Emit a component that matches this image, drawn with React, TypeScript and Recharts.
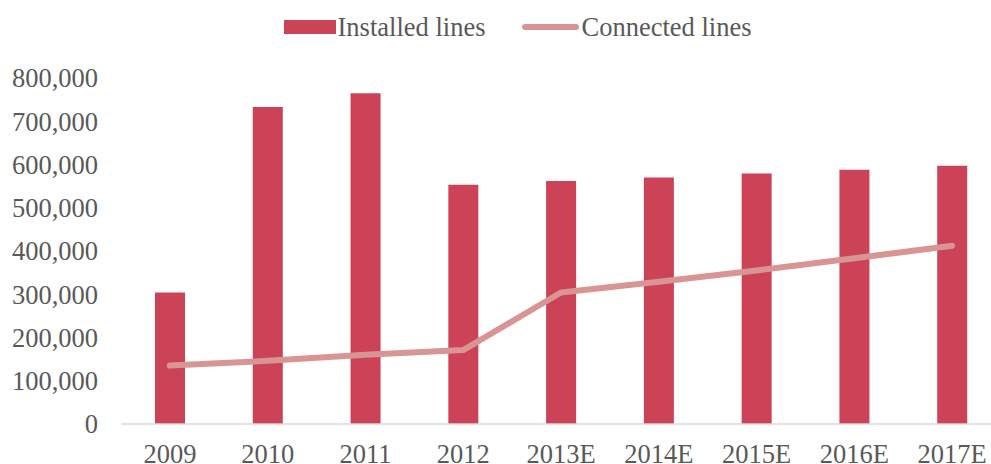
import {
  ComposedChart,
  Bar,
  Line,
  XAxis,
  YAxis,
  Legend,
} from "recharts";

const years = ["2009", "2010", "2011", "2012", "2013E", "2014E", "2015E", "2016E", "2017E"];
const installed = [304000, 733000, 765000, 553000, 562000, 570000, 579000, 588000, 597000];
const connected = [135000, 146000, 160000, 171000, 304000, 329000, 355000, 383000, 412000];
const yTicks = [0, 100000, 200000, 300000, 400000, 500000, 600000, 700000, 800000];

const data = years.map((year, i) => ({
  year,
  installed: installed[i],
  connected: connected[i],
}));

const font = "'Liberation Serif', 'Times New Roman', serif";
const textColor = "#595959";
const barColor = "#CC4257";
const lineColor = "#D99594";
const fontSize = 26.5;

function TopLegend() {
  return (
    <div
      style={{
        display: "flex",
        justifyContent: "center",
        alignItems: "center",
        height: 40,
        fontFamily: font,
        fontSize,
        color: textColor,
        paddingLeft: 34,
      }}
    >
      <span style={{ display: "inline-block", width: 52, height: 14, background: barColor, marginRight: 2 }} />
      <span>Installed lines</span>
      <span
        style={{
          display: "inline-block",
          width: 57,
          height: 6,
          borderRadius: 3,
          background: lineColor,
          marginLeft: 37,
          marginRight: 2,
        }}
      />
      <span>Connected lines</span>
    </div>
  );
}

export default function App() {
  return (
    <div
      style={{
        position: "absolute",
        left: 0,
        top: 0,
        width: 991,
        height: 464,
        overflow: "hidden",
        background: "#fff",
      }}
    >
      <ComposedChart
        width={1010}
        height={464}
        data={data}
        margin={{ top: 38, right: 9, left: 0, bottom: 0 }}
        style={{ fontFamily: font }}
      >
        <Legend
          verticalAlign="top"
          align="center"
          wrapperStyle={{ top: 7 }}
          content={() => <TopLegend />}
        />
        <XAxis
          dataKey="year"
          height={40}
          tickLine={false}
          axisLine={{ stroke: "#D9D9D9", strokeWidth: 1.5 }}
          tick={{ fill: textColor, fontSize, fontFamily: font }}
          tickMargin={14}
        />
        <YAxis
          width={121}
          domain={[0, 800000]}
          ticks={yTicks}
          interval={0}
          axisLine={false}
          tickLine={false}
          tickMargin={17}
          tick={{ fill: textColor, fontSize, fontFamily: font }}
          tickFormatter={(v: number) => v.toLocaleString("en-US")}
        />
        <Bar dataKey="installed" fill={barColor} barSize={30} isAnimationActive={false} />
        <Line
          dataKey="connected"
          type="linear"
          stroke={lineColor}
          strokeWidth={6}
          strokeLinecap="round"
          strokeLinejoin="round"
          dot={false}
          activeDot={false}
          isAnimationActive={false}
        />
      </ComposedChart>
    </div>
  );
}
